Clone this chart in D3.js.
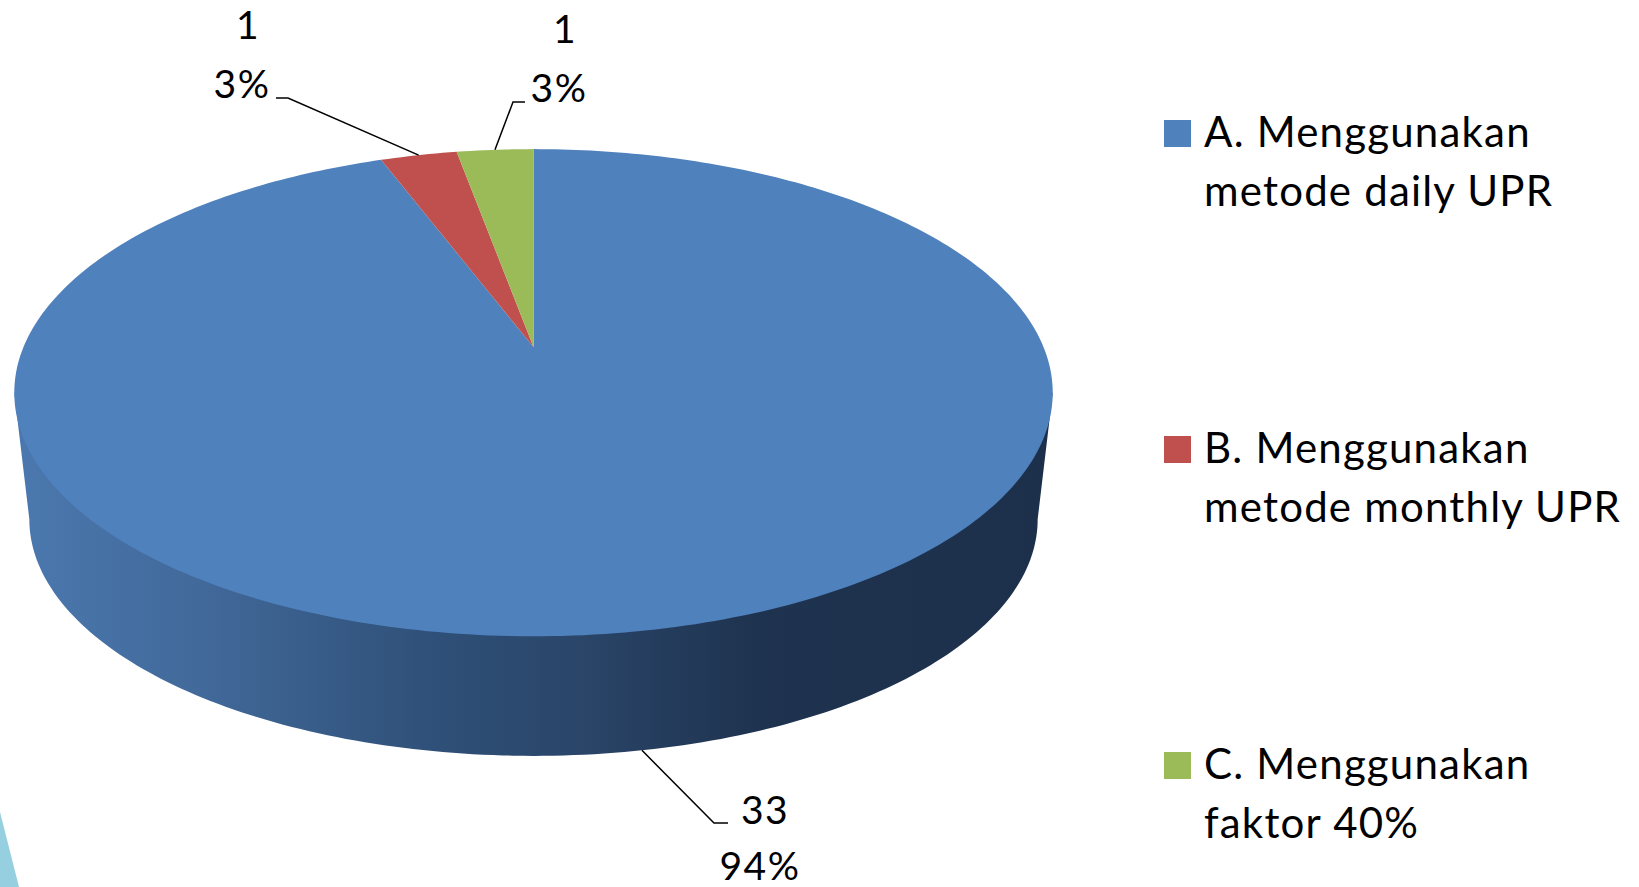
<!DOCTYPE html>
<html>
<head>
<meta charset="utf-8">
<script src="https://cdn.jsdelivr.net/npm/d3@7"></script>
<style>
  html, body { margin: 0; padding: 0; background: #fff; overflow: hidden; }
  text { font-family: Lato, sans-serif; font-size: 42px; fill: #000; }
  .legend text { letter-spacing: 1.2px; }
  text.label { font-size: 39px; letter-spacing: 1.5px; }
</style>
</head>
<body>
<div id="chart"></div>
<script>
// Data
var categories = ["A. Menggunakan metode daily UPR", "B. Menggunakan metode monthly UPR", "C. Menggunakan faktor 40%"];
var legendLines = [["A. Menggunakan", "metode daily UPR"], ["B. Menggunakan", "metode monthly UPR"], ["C. Menggunakan", "faktor 40%"]];
var values = [33, 1, 1];
var percents = ["94%", "3%", "3%"];
var colors = ["#4f81bd", "#c0504d", "#9bbb59"];

var svgWidth = 1639;
var svgHeight = 887;

var svg = d3.select("#chart")
  .append("svg")
  .attr("width", svgWidth)
  .attr("height", svgHeight)
  .style("display", "block");

// Perspective of the pie disc: the centre of the disc sits above the centre of the ellipse
var apexX = 533.5, apexY = 347;
var persp = -0.1876, scaleU = 510, scaleV = 235;
var depth = 128, taper = 0.971;

function project(angle, level) {
  var u = Math.sin(angle), v = -Math.cos(angle);
  var w = 1 + persp * v;
  var s = level ? taper : 1;
  return [apexX + s * scaleU * u / w, apexY + (level ? depth : 0) + s * scaleV * v / w];
}

function arcPoints(a0, a1, level) {
  var n = Math.max(2, Math.ceil(Math.abs(a1 - a0) * 60));
  return d3.range(n + 1).map(function(i) {
    return project(a0 + (a1 - a0) * i / n, level);
  });
}

var line = d3.line();
var pie = d3.pie().sort(null).value(function(d) { return d; });
var slices = pie(values);

// Light blue corner of the slide behind the chart
svg.append("path")
  .attr("d", line([[0, 812], [19, 887], [0, 887]]) + "Z")
  .attr("fill", "#95cfe0");

// Side of the pie
var defs = svg.append("defs");
var sideGrad = defs.append("linearGradient")
  .attr("id", "sideGrad")
  .attr("gradientUnits", "userSpaceOnUse")
  .attr("x1", 30).attr("x2", 1037).attr("y1", 0).attr("y2", 0);
[[0, "#4a77ad"], [0.16, "#426a9b"], [0.4, "#2f5078"], [0.55, "#2a4568"], [0.72, "#1e334f"], [1, "#1d304b"]].forEach(function(s) {
  sideGrad.append("stop").attr("offset", s[0]).attr("stop-color", s[1]);
});

var edgeAngle = Math.acos(persp);
var sidePts = [project(2 * Math.PI - edgeAngle, 0)]
  .concat(arcPoints(2 * Math.PI - edgeAngle, edgeAngle, 1))
  .concat([project(edgeAngle, 0)]);
svg.append("path")
  .attr("d", line(sidePts) + "Z")
  .attr("fill", "url(#sideGrad)");

// Top of the pie
svg.selectAll("path.slice")
  .data(slices)
  .enter()
  .append("path")
  .attr("class", "slice")
  .attr("d", function(d) {
    return line([[apexX, apexY]].concat(arcPoints(d.startAngle, d.endAngle, 0))) + "Z";
  })
  .attr("fill", function(d, i) { return colors[i]; });

// Labels, value above percent
var labelLayout = [
  { value: [765, 824], percent: [760, 880], elbow: [[714, 823], [728, 823]], level: 1 },
  { value: [248, 39], percent: [242, 98], elbow: [[288, 98], [276, 98]], level: 0 },
  { value: [565, 43], percent: [559, 102], elbow: [[513, 102], [525, 102]], level: 0 }
];

slices.forEach(function(d, i) {
  var l = labelLayout[i];
  var anchor = project((d.startAngle + d.endAngle) / 2, l.level);
  svg.append("path")
    .attr("d", line([anchor].concat(l.elbow)))
    .attr("fill", "none")
    .attr("stroke", "#000")
    .attr("stroke-width", 1.5);
  svg.append("text").attr("class", "label").attr("x", l.value[0]).attr("y", l.value[1])
    .attr("text-anchor", "middle").text(values[i]);
  svg.append("text").attr("class", "label").attr("x", l.percent[0]).attr("y", l.percent[1])
    .attr("text-anchor", "middle").text(percents[i]);
});

// Legend
var legendY = d3.scalePoint().domain(categories).range([147, 779]);
var legend = svg.selectAll("g.legend")
  .data(categories)
  .enter()
  .append("g")
  .attr("class", "legend")
  .attr("transform", function(d) { return "translate(1164," + legendY(d) + ")"; });

legend.append("rect")
  .attr("x", 0).attr("y", -27)
  .attr("width", 27).attr("height", 27)
  .attr("fill", function(d, i) { return colors[i]; });

legend.each(function(d, i) {
  var g = d3.select(this);
  legendLines[i].forEach(function(t, j) {
    g.append("text").attr("x", 40).attr("y", j * 59).text(t);
  });
});
</script>
</body>
</html>
